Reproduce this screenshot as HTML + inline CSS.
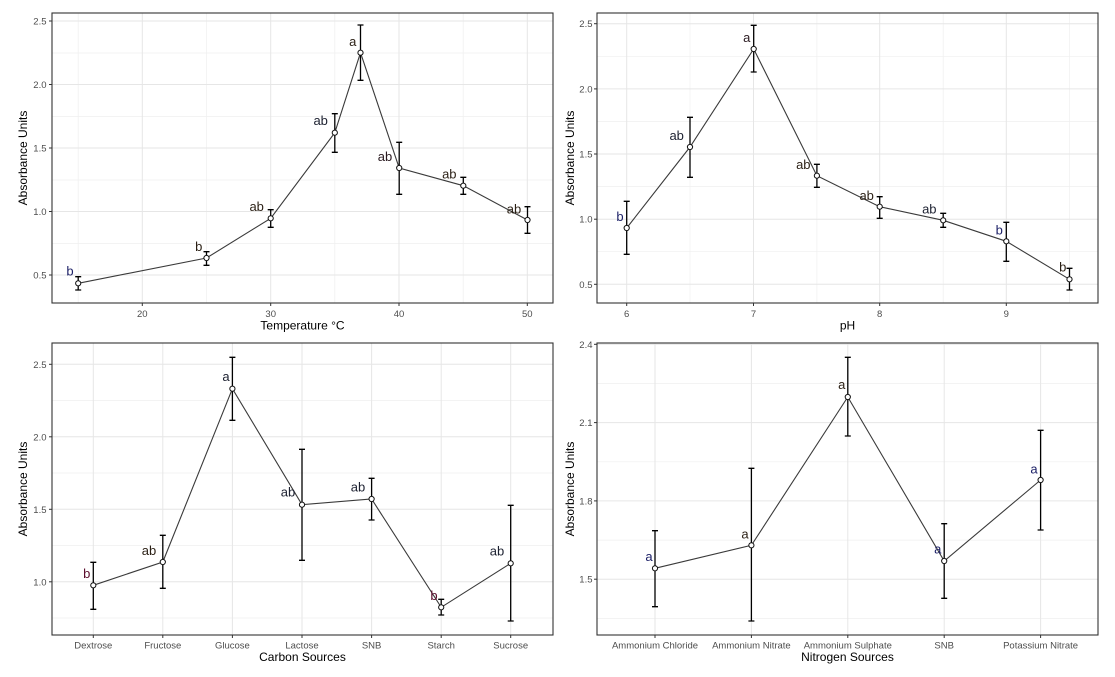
<!DOCTYPE html>
<html><head><meta charset="utf-8"><style>
html,body{margin:0;padding:0;background:#fff;}
svg{display:block;font-family:"Liberation Sans",Arial,sans-serif;}
.gM{stroke:#e6e6e6;stroke-width:1;fill:none}
.gm{stroke:#efefef;stroke-width:0.7;fill:none}
.fr{stroke:#333;stroke-width:1.1;fill:none}
.tk{stroke:#333;stroke-width:1}
.ty{font-size:9.5px;fill:#4d4d4d;text-anchor:end}
.tx{font-size:9.5px;fill:#4d4d4d;text-anchor:middle}
.ti{font-size:12px;fill:#000;text-anchor:middle}
.ln{stroke:#3a3a3a;stroke-width:1.1;fill:none}
.eb{stroke:#000;stroke-width:1.3;fill:none}
.pt{stroke:#111;stroke-width:1;fill:#fff}
.lb{font-size:13px;text-anchor:middle}
</style></head><body>
<svg width="1115" height="677" viewBox="0 0 1115 677" xmlns="http://www.w3.org/2000/svg">
<rect width="1115" height="677" fill="#fff"/>

<!-- ============ PANEL 1: Temperature ============ -->
<g>
<!-- minor grid y -->
<line class="gm" x1="52" x2="553" y1="53" y2="53"/>
<line class="gm" x1="52" x2="553" y1="116.5" y2="116.5"/>
<line class="gm" x1="52" x2="553" y1="180" y2="180"/>
<line class="gm" x1="52" x2="553" y1="243.5" y2="243.5"/>
<!-- minor grid x -->
<line class="gm" x1="78.2" x2="78.2" y1="13" y2="303"/>
<line class="gm" x1="206.5" x2="206.5" y1="13" y2="303"/>
<line class="gm" x1="334.8" x2="334.8" y1="13" y2="303"/>
<line class="gm" x1="463.2" x2="463.2" y1="13" y2="303"/>
<!-- major grid -->
<line class="gM" x1="52" x2="553" y1="21" y2="21"/>
<line class="gM" x1="52" x2="553" y1="84.5" y2="84.5"/>
<line class="gM" x1="52" x2="553" y1="148" y2="148"/>
<line class="gM" x1="52" x2="553" y1="211.5" y2="211.5"/>
<line class="gM" x1="52" x2="553" y1="275" y2="275"/>
<line class="gM" x1="142.3" x2="142.3" y1="13" y2="303"/>
<line class="gM" x1="270.7" x2="270.7" y1="13" y2="303"/>
<line class="gM" x1="399" x2="399" y1="13" y2="303"/>
<line class="gM" x1="527.3" x2="527.3" y1="13" y2="303"/>
<rect class="fr" x="52" y="13" width="501" height="290"/>
<!-- ticks -->
<line class="tk" x1="49" x2="52" y1="21" y2="21"/>
<line class="tk" x1="49" x2="52" y1="84.5" y2="84.5"/>
<line class="tk" x1="49" x2="52" y1="148" y2="148"/>
<line class="tk" x1="49" x2="52" y1="211.5" y2="211.5"/>
<line class="tk" x1="49" x2="52" y1="275" y2="275"/>
<line class="tk" x1="142.3" x2="142.3" y1="303" y2="306"/>
<line class="tk" x1="270.7" x2="270.7" y1="303" y2="306"/>
<line class="tk" x1="399" x2="399" y1="303" y2="306"/>
<line class="tk" x1="527.3" x2="527.3" y1="303" y2="306"/>
<text class="ty" x="46.5" y="24.5">2.5</text>
<text class="ty" x="46.5" y="88">2.0</text>
<text class="ty" x="46.5" y="151.5">1.5</text>
<text class="ty" x="46.5" y="215">1.0</text>
<text class="ty" x="46.5" y="278.5">0.5</text>
<text class="tx" x="142.3" y="317">20</text>
<text class="tx" x="270.7" y="317">30</text>
<text class="tx" x="399" y="317">40</text>
<text class="tx" x="527.3" y="317">50</text>
<text class="ti" x="302.5" y="329.5">Temperature °C</text>
<text class="ti" transform="translate(27,158) rotate(-90)">Absorbance Units</text>
<!-- error bars -->
<g class="eb">
<path d="M78.2 276.7V290M75.2 276.7H81.2M75.2 290H81.2"/>
<path d="M206.5 251.7V265.3M203.5 251.7H209.5M203.5 265.3H209.5"/>
<path d="M270.7 209.7V227.3M267.7 209.7H273.7M267.7 227.3H273.7"/>
<path d="M334.8 113.7V152.3M331.8 113.7H337.8M331.8 152.3H337.8"/>
<path d="M360.5 25V80.3M357.5 25H363.5M357.5 80.3H363.5"/>
<path d="M399.2 142.3V194.3M396.2 142.3H402.2M396.2 194.3H402.2"/>
<path d="M463.3 177.3V194.3M460.3 177.3H466.3M460.3 194.3H466.3"/>
<path d="M527.5 206.7V233.3M524.5 206.7H530.5M524.5 233.3H530.5"/>
</g>
<polyline class="ln" points="78.2,283.3 206.5,258 270.7,218.3 334.8,132.7 360.5,52.7 399.2,168 463.3,185.7 527.5,220"/>
<g class="pt">
<circle cx="78.2" cy="283.3" r="2.6"/><circle cx="206.5" cy="258" r="2.6"/><circle cx="270.7" cy="218.3" r="2.6"/><circle cx="334.8" cy="132.7" r="2.6"/><circle cx="360.5" cy="52.7" r="2.6"/><circle cx="399.2" cy="168" r="2.6"/><circle cx="463.3" cy="185.7" r="2.6"/><circle cx="527.5" cy="220" r="2.6"/>
</g>
<text class="lb" x="70" y="275.5" fill="#1b1f66">b</text>
<text class="lb" x="198.7" y="251" fill="#2a1f14">b</text>
<text class="lb" x="256.7" y="211" fill="#2a1f14">ab</text>
<text class="lb" x="320.7" y="125" fill="#1c2030">ab</text>
<text class="lb" x="352.7" y="46" fill="#2a1f14">a</text>
<text class="lb" x="385" y="161" fill="#2a1a20">ab</text>
<text class="lb" x="449.3" y="178.3" fill="#2a1f14">ab</text>
<text class="lb" x="514" y="213.3" fill="#2a1f14">ab</text>
</g>

<!-- ============ PANEL 2: pH ============ -->
<g>
<line class="gm" x1="597" x2="1098" y1="56.3" y2="56.3"/>
<line class="gm" x1="597" x2="1098" y1="121.4" y2="121.4"/>
<line class="gm" x1="597" x2="1098" y1="186.6" y2="186.6"/>
<line class="gm" x1="597" x2="1098" y1="251.7" y2="251.7"/>
<line class="gm" x1="690" x2="690" y1="13" y2="303"/>
<line class="gm" x1="816.9" x2="816.9" y1="13" y2="303"/>
<line class="gm" x1="943.2" x2="943.2" y1="13" y2="303"/>
<line class="gm" x1="1069.5" x2="1069.5" y1="13" y2="303"/>
<line class="gM" x1="597" x2="1098" y1="23.7" y2="23.7"/>
<line class="gM" x1="597" x2="1098" y1="88.9" y2="88.9"/>
<line class="gM" x1="597" x2="1098" y1="154" y2="154"/>
<line class="gM" x1="597" x2="1098" y1="219.2" y2="219.2"/>
<line class="gM" x1="597" x2="1098" y1="284.3" y2="284.3"/>
<line class="gM" x1="626.7" x2="626.7" y1="13" y2="303"/>
<line class="gM" x1="753.5" x2="753.5" y1="13" y2="303"/>
<line class="gM" x1="879.7" x2="879.7" y1="13" y2="303"/>
<line class="gM" x1="1006.3" x2="1006.3" y1="13" y2="303"/>
<rect class="fr" x="597" y="13" width="501" height="290"/>
<line class="tk" x1="594" x2="597" y1="23.7" y2="23.7"/>
<line class="tk" x1="594" x2="597" y1="88.9" y2="88.9"/>
<line class="tk" x1="594" x2="597" y1="154" y2="154"/>
<line class="tk" x1="594" x2="597" y1="219.2" y2="219.2"/>
<line class="tk" x1="594" x2="597" y1="284.3" y2="284.3"/>
<line class="tk" x1="626.7" x2="626.7" y1="303" y2="306"/>
<line class="tk" x1="753.5" x2="753.5" y1="303" y2="306"/>
<line class="tk" x1="879.7" x2="879.7" y1="303" y2="306"/>
<line class="tk" x1="1006.3" x2="1006.3" y1="303" y2="306"/>
<text class="ty" x="592.5" y="27.2">2.5</text>
<text class="ty" x="592.5" y="92.4">2.0</text>
<text class="ty" x="592.5" y="157.5">1.5</text>
<text class="ty" x="592.5" y="222.7">1.0</text>
<text class="ty" x="592.5" y="287.8">0.5</text>
<text class="tx" x="626.7" y="317">6</text>
<text class="tx" x="753.5" y="317">7</text>
<text class="tx" x="879.7" y="317">8</text>
<text class="tx" x="1006.3" y="317">9</text>
<text class="ti" x="847.5" y="329.5">pH</text>
<text class="ti" transform="translate(574,158) rotate(-90)">Absorbance Units</text>
<g class="eb">
<path d="M626.7 201.3V254.3M623.7 201.3H629.7M623.7 254.3H629.7"/>
<path d="M690 117.3V177.3M687 117.3H693M687 177.3H693"/>
<path d="M753.7 25.3V72M750.7 25.3H756.7M750.7 72H756.7"/>
<path d="M816.9 164.3V187.3M813.9 164.3H819.9M813.9 187.3H819.9"/>
<path d="M879.7 196.7V218.3M876.7 196.7H882.7M876.7 218.3H882.7"/>
<path d="M943.2 213.3V227.3M940.2 213.3H946.2M940.2 227.3H946.2"/>
<path d="M1006.3 222.3V261.3M1003.3 222.3H1009.3M1003.3 261.3H1009.3"/>
<path d="M1069.5 268.3V290M1066.5 268.3H1072.5M1066.5 290H1072.5"/>
</g>
<polyline class="ln" points="626.7,228 690,147 753.7,49 816.9,175.7 879.7,206.7 943.2,220.3 1006.3,241.3 1069.5,279.3"/>
<g class="pt">
<circle cx="626.7" cy="228" r="2.6"/><circle cx="690" cy="147" r="2.6"/><circle cx="753.7" cy="49" r="2.6"/><circle cx="816.9" cy="175.7" r="2.6"/><circle cx="879.7" cy="206.7" r="2.6"/><circle cx="943.2" cy="220.3" r="2.6"/><circle cx="1006.3" cy="241.3" r="2.6"/><circle cx="1069.5" cy="279.3" r="2.6"/>
</g>
<text class="lb" x="620" y="221" fill="#1b1f66">b</text>
<text class="lb" x="676.7" y="140" fill="#1c2030">ab</text>
<text class="lb" x="746.7" y="42" fill="#2a1a20">a</text>
<text class="lb" x="803.3" y="169" fill="#2a1f14">ab</text>
<text class="lb" x="866.7" y="200" fill="#2a1f14">ab</text>
<text class="lb" x="929.3" y="213.3" fill="#1c2030">ab</text>
<text class="lb" x="999.3" y="234.3" fill="#1b1f66">b</text>
<text class="lb" x="1062.7" y="271.7" fill="#2a1f14">b</text>
</g>

<!-- ============ PANEL 3: Carbon ============ -->
<g>
<line class="gm" x1="52" x2="553" y1="400.5" y2="400.5"/>
<line class="gm" x1="52" x2="553" y1="473" y2="473"/>
<line class="gm" x1="52" x2="553" y1="545.5" y2="545.5"/>
<line class="gm" x1="52" x2="553" y1="618" y2="618"/>
<line class="gM" x1="52" x2="553" y1="364.3" y2="364.3"/>
<line class="gM" x1="52" x2="553" y1="436.8" y2="436.8"/>
<line class="gM" x1="52" x2="553" y1="509.3" y2="509.3"/>
<line class="gM" x1="52" x2="553" y1="581.8" y2="581.8"/>
<line class="gM" x1="93.3" x2="93.3" y1="343" y2="635"/>
<line class="gM" x1="162.8" x2="162.8" y1="343" y2="635"/>
<line class="gM" x1="232.4" x2="232.4" y1="343" y2="635"/>
<line class="gM" x1="302" x2="302" y1="343" y2="635"/>
<line class="gM" x1="371.6" x2="371.6" y1="343" y2="635"/>
<line class="gM" x1="441.2" x2="441.2" y1="343" y2="635"/>
<line class="gM" x1="510.7" x2="510.7" y1="343" y2="635"/>
<rect class="fr" x="52" y="343" width="501" height="292"/>
<line class="tk" x1="49" x2="52" y1="364.3" y2="364.3"/>
<line class="tk" x1="49" x2="52" y1="436.8" y2="436.8"/>
<line class="tk" x1="49" x2="52" y1="509.3" y2="509.3"/>
<line class="tk" x1="49" x2="52" y1="581.8" y2="581.8"/>
<line class="tk" x1="93.3" x2="93.3" y1="635" y2="638"/>
<line class="tk" x1="162.8" x2="162.8" y1="635" y2="638"/>
<line class="tk" x1="232.4" x2="232.4" y1="635" y2="638"/>
<line class="tk" x1="302" x2="302" y1="635" y2="638"/>
<line class="tk" x1="371.6" x2="371.6" y1="635" y2="638"/>
<line class="tk" x1="441.2" x2="441.2" y1="635" y2="638"/>
<line class="tk" x1="510.7" x2="510.7" y1="635" y2="638"/>
<text class="ty" x="46.5" y="367.8">2.5</text>
<text class="ty" x="46.5" y="440.3">2.0</text>
<text class="ty" x="46.5" y="512.8">1.5</text>
<text class="ty" x="46.5" y="585.3">1.0</text>
<text class="tx" x="93.3" y="648.5">Dextrose</text>
<text class="tx" x="162.8" y="648.5">Fructose</text>
<text class="tx" x="232.4" y="648.5">Glucose</text>
<text class="tx" x="302" y="648.5">Lactose</text>
<text class="tx" x="371.6" y="648.5">SNB</text>
<text class="tx" x="441.2" y="648.5">Starch</text>
<text class="tx" x="510.7" y="648.5">Sucrose</text>
<text class="ti" x="302.5" y="661">Carbon Sources</text>
<text class="ti" transform="translate(27,489) rotate(-90)">Absorbance Units</text>
<g class="eb">
<path d="M93.3 562.3V609.3M90.3 562.3H96.3M90.3 609.3H96.3"/>
<path d="M162.8 535.3V588.3M159.8 535.3H165.8M159.8 588.3H165.8"/>
<path d="M232.4 357.3V420.3M229.4 357.3H235.4M229.4 420.3H235.4"/>
<path d="M302 449.3V560.3M299 449.3H305M299 560.3H305"/>
<path d="M371.6 478.3V520M368.6 478.3H374.6M368.6 520H374.6"/>
<path d="M441.2 599.3V615M438.2 599.3H444.2M438.2 615H444.2"/>
<path d="M510.7 505.3V621M507.7 505.3H513.7M507.7 621H513.7"/>
</g>
<polyline class="ln" points="93.3,585.3 162.8,562 232.4,388.7 302,504.7 371.6,499 441.2,607.3 510.7,563.3"/>
<g class="pt">
<circle cx="93.3" cy="585.3" r="2.6"/><circle cx="162.8" cy="562" r="2.6"/><circle cx="232.4" cy="388.7" r="2.6"/><circle cx="302" cy="504.7" r="2.6"/><circle cx="371.6" cy="499" r="2.6"/><circle cx="441.2" cy="607.3" r="2.6"/><circle cx="510.7" cy="563.3" r="2.6"/>
</g>
<text class="lb" x="86.7" y="578" fill="#5c0f2e">b</text>
<text class="lb" x="149" y="555" fill="#2a1f14">ab</text>
<text class="lb" x="226" y="381" fill="#1c2030">a</text>
<text class="lb" x="288" y="496.7" fill="#1c2030">ab</text>
<text class="lb" x="358" y="491.7" fill="#1c2030">ab</text>
<text class="lb" x="434" y="600" fill="#5c0f2e">b</text>
<text class="lb" x="497" y="555.7" fill="#1c2030">ab</text>
</g>

<!-- ============ PANEL 4: Nitrogen ============ -->
<g>
<line class="gm" x1="597" x2="1098" y1="383.5" y2="383.5"/>
<line class="gm" x1="597" x2="1098" y1="461.8" y2="461.8"/>
<line class="gm" x1="597" x2="1098" y1="540.1" y2="540.1"/>
<line class="gm" x1="597" x2="1098" y1="618.4" y2="618.4"/>
<line class="gM" x1="597" x2="1098" y1="344.3" y2="344.3"/>
<line class="gM" x1="597" x2="1098" y1="422.6" y2="422.6"/>
<line class="gM" x1="597" x2="1098" y1="500.9" y2="500.9"/>
<line class="gM" x1="597" x2="1098" y1="579.2" y2="579.2"/>
<line class="gM" x1="655" x2="655" y1="343" y2="635"/>
<line class="gM" x1="751.4" x2="751.4" y1="343" y2="635"/>
<line class="gM" x1="847.8" x2="847.8" y1="343" y2="635"/>
<line class="gM" x1="944.2" x2="944.2" y1="343" y2="635"/>
<line class="gM" x1="1040.6" x2="1040.6" y1="343" y2="635"/>
<rect class="fr" x="597" y="343" width="501" height="292"/>
<line class="tk" x1="594" x2="597" y1="344.3" y2="344.3"/>
<line class="tk" x1="594" x2="597" y1="422.6" y2="422.6"/>
<line class="tk" x1="594" x2="597" y1="500.9" y2="500.9"/>
<line class="tk" x1="594" x2="597" y1="579.2" y2="579.2"/>
<line class="tk" x1="655" x2="655" y1="635" y2="638"/>
<line class="tk" x1="751.4" x2="751.4" y1="635" y2="638"/>
<line class="tk" x1="847.8" x2="847.8" y1="635" y2="638"/>
<line class="tk" x1="944.2" x2="944.2" y1="635" y2="638"/>
<line class="tk" x1="1040.6" x2="1040.6" y1="635" y2="638"/>
<text class="ty" x="592.5" y="347.8">2.4</text>
<text class="ty" x="592.5" y="426.1">2.1</text>
<text class="ty" x="592.5" y="504.4">1.8</text>
<text class="ty" x="592.5" y="582.7">1.5</text>
<text class="tx" x="655" y="648.5">Ammonium Chloride</text>
<text class="tx" x="751.4" y="648.5">Ammonium Nitrate</text>
<text class="tx" x="847.8" y="648.5">Ammonium Sulphate</text>
<text class="tx" x="944.2" y="648.5">SNB</text>
<text class="tx" x="1040.6" y="648.5">Potassium Nitrate</text>
<text class="ti" x="847.5" y="661">Nitrogen Sources</text>
<text class="ti" transform="translate(574,489) rotate(-90)">Absorbance Units</text>
<g class="eb">
<path d="M655 530.7V606.7M652 530.7H658M652 606.7H658"/>
<path d="M751.4 468.3V621M748.4 468.3H754.4M748.4 621H754.4"/>
<path d="M847.8 357.3V436M844.8 357.3H850.8M844.8 436H850.8"/>
<path d="M944.2 523.7V598.3M941.2 523.7H947.2M941.2 598.3H947.2"/>
<path d="M1040.6 430.3V530M1037.6 430.3H1043.6M1037.6 530H1043.6"/>
</g>
<polyline class="ln" points="655,568.3 751.4,545.3 847.8,397 944.2,561 1040.6,480"/>
<g class="pt">
<circle cx="655" cy="568.3" r="2.6"/><circle cx="751.4" cy="545.3" r="2.6"/><circle cx="847.8" cy="397" r="2.6"/><circle cx="944.2" cy="561" r="2.6"/><circle cx="1040.6" cy="480" r="2.6"/>
</g>
<text class="lb" x="649" y="561" fill="#1b1f66">a</text>
<text class="lb" x="745" y="538.3" fill="#2a1f14">a</text>
<text class="lb" x="841.7" y="389" fill="#2a1f14">a</text>
<text class="lb" x="937.7" y="553.3" fill="#1b1f66">a</text>
<text class="lb" x="1034" y="473.3" fill="#1b1f66">a</text>
</g>
</svg>
</body></html>
